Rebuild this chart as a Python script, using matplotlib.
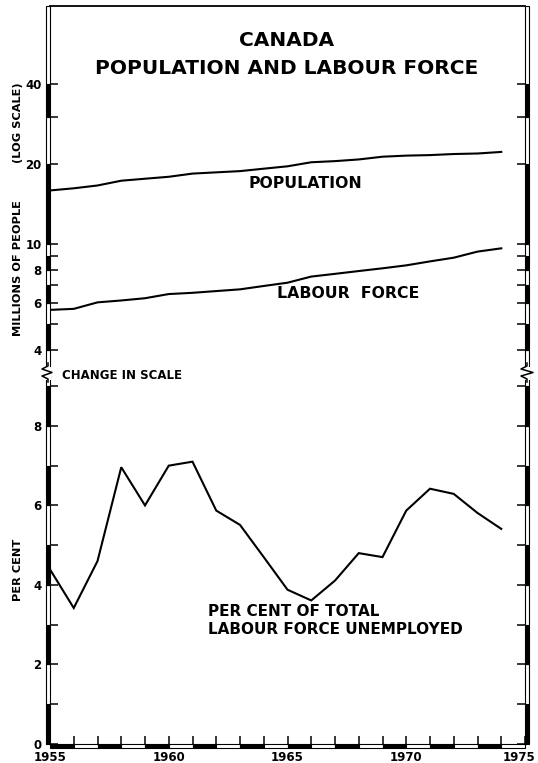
import matplotlib
matplotlib.use("Agg")
import matplotlib.pyplot as plt
from matplotlib.patches import Rectangle
from matplotlib.lines import Line2D
from matplotlib.ticker import FixedLocator, FixedFormatter, NullLocator
from matplotlib.transforms import ScaledTranslation

plt.rcParams['font.family'] = ['DejaVu Sans']
plt.rcParams['font.weight'] = 'bold'
WIDE = ['DejaVu Sans']

# ---------------- data ----------------
years = list(range(1955, 1975))
population = [15.9, 16.2, 16.6, 17.3, 17.6, 17.9, 18.4, 18.6, 18.8, 19.2,
              19.6, 20.3, 20.5, 20.8, 21.3, 21.5, 21.6, 21.8, 21.9, 22.2]
labour_force = [5.65, 5.70, 6.03, 6.13, 6.25, 6.48, 6.55, 6.65, 6.75, 6.95,
                7.15, 7.54, 7.72, 7.91, 8.10, 8.31, 8.60, 8.88, 9.36, 9.63]
unemployment = [4.39, 3.42, 4.60, 6.96, 6.00, 7.00, 7.10, 5.87, 5.51, 4.70,
                3.88, 3.61, 4.11, 4.80, 4.70, 5.87, 6.42, 6.29, 5.81, 5.41]

top_ticks = [4, 5, 6, 7, 8, 9, 10, 20, 30, 40]
top_ticklabels = ['4', '', '6', '', '8', '', '10', '20', '', '40']
bot_ticks = list(range(0, 10))
bot_ticklabels = ['0', '', '2', '', '4', '', '6', '', '8', '']
x_ticks = list(range(1955, 1976))
x_ticklabels = [str(y) if y % 5 == 0 else '' for y in x_ticks]

title_lines = ["CANADA", "POPULATION AND LABOUR FORCE"]

# ---------------- layout ----------------
W, H = 538, 763
fig = plt.figure(figsize=(W / 100, H / 100), dpi=100)
X0, X1 = 50, 525
YTOP, YBRK, YBOT = 6, 373, 744


def fa(l, t, r, b):
    return [l / W, 1 - b / H, (r - l) / W, (b - t) / H]


ax1 = fig.add_axes(fa(X0, YTOP, X1, YBRK))
ax2 = fig.add_axes(fa(X0, YBRK, X1, YBOT))

LW = 1.5
ax1.plot(years, population, color='black', lw=LW, solid_joinstyle='miter')
ax1.plot(years, labour_force, color='black', lw=LW, solid_joinstyle='miter')
ax2.plot(years, unemployment, color='black', lw=LW, solid_joinstyle='miter')

ax1.set_yscale('log')
ax1.set_ylim(3.27, 78.6)
ax2.set_ylim(0, 9.33)
for ax in (ax1, ax2):
    ax.set_xlim(1955, 1975)
    for s in ('left', 'right', 'bottom', 'top'):
        ax.spines[s].set_visible(False)

ax1.spines['top'].set_visible(True)
ax1.spines['top'].set_linewidth(1.3)

# y ticks
ax1.yaxis.set_major_locator(FixedLocator(top_ticks))
ax1.yaxis.set_major_formatter(FixedFormatter(top_ticklabels))
ax1.yaxis.set_minor_locator(NullLocator())
ax1.xaxis.set_major_locator(NullLocator())
ax1.xaxis.set_minor_locator(NullLocator())

ax2.yaxis.set_major_locator(FixedLocator(bot_ticks))
ax2.yaxis.set_major_formatter(FixedFormatter(bot_ticklabels))
ax2.xaxis.set_major_locator(FixedLocator(x_ticks))
ax2.xaxis.set_major_formatter(FixedFormatter(x_ticklabels))

for ax in (ax1, ax2):
    ax.tick_params(axis='y', direction='in', length=6, width=1.1, left=True,
                   right=True, labelsize=8.5, pad=6)
ax2.tick_params(axis='x', direction='in', length=6, width=1.1, bottom=True,
                top=False, labelsize=8.5, pad=5)
for lab in ax1.get_yticklabels() + ax2.get_yticklabels() + ax2.get_xticklabels():
    lab.set_fontweight('bold')

# keep the last year label inside the figure
last = ax2.get_xticklabels()[-1]
last.set_transform(last.get_transform() + ScaledTranslation(-6 / 100, 0, fig.dpi_scale_trans))

# ---------------- striped double-line spines ----------------
SW = 4  # strip width in pixels


def vstrip(ax, bounds, fills, side):
    w = SW / (X1 - X0)
    xpos = -w if side == 'left' else 1.0
    for (a, b), f in zip(zip(bounds[:-1], bounds[1:]), fills):
        ax.add_patch(Rectangle((xpos, a), w, b - a,
                               transform=ax.get_yaxis_transform(),
                               facecolor='black' if f else 'white',
                               edgecolor='black', lw=0.8, clip_on=False,
                               zorder=5))


def hstrip(ax, bounds, fills):
    h = SW / (YBOT - YBRK)
    for (a, b), f in zip(zip(bounds[:-1], bounds[1:]), fills):
        ax.add_patch(Rectangle((a, -h), b - a, h,
                               transform=ax.get_xaxis_transform(),
                               facecolor='black' if f else 'white',
                               edgecolor='black', lw=0.8, clip_on=False,
                               zorder=5))


top_bounds = [3.27, 4, 5, 6, 7, 8, 9, 10, 20, 30, 40, 78.6]
top_fills = [False, True, False, True, False, True, False, True, False, True, False]
bot_bounds = [0, 1, 2, 3, 4, 5, 6, 7, 8, 9, 9.33]
bot_fills = [True, False, True, False, True, False, True, False, True, False]
for side in ('left', 'right'):
    vstrip(ax1, top_bounds, top_fills, side)
    vstrip(ax2, bot_bounds, bot_fills, side)
hstrip(ax2, list(range(1955, 1976)), [i % 2 == 0 for i in range(20)])

# ---------------- scale break ----------------
for xs in (X0 - SW, X1):
    fig.add_artist(Rectangle((xs / W - 0.002, 1 - 380 / H), (SW + 2) / W, 13 / H,
                             transform=fig.transFigure, facecolor='white',
                             edgecolor='none', zorder=10))
zz_left = [(48, 363), (48, 366), (42, 369), (52, 372.5), (42, 376), (48, 379), (48, 382)]
zz_right = [(527, 363), (527, 366), (521, 369), (533, 372.5), (521, 376), (527, 379), (527, 382)]
for zz in (zz_left, zz_right):
    fig.add_artist(Line2D([p[0] / W for p in zz], [1 - p[1] / H for p in zz],
                          transform=fig.transFigure, color='black', lw=1.1,
                          zorder=11))

fig.text(62 / W, 1 - 375 / H, "CHANGE IN SCALE", fontsize=8.5, fontweight='bold',
         family=WIDE, ha='left', va='center')

# ---------------- texts ----------------
fig.text(287 / W, 1 - 40 / H, title_lines[0], fontsize=14.5, fontweight='bold',
         family=WIDE, ha='center', va='center')
fig.text(287 / W, 1 - 68 / H, title_lines[1], fontsize=14.5, fontweight='bold',
         family=WIDE, ha='center', va='center')

fig.text(305 / W, 1 - 183 / H, "POPULATION", fontsize=11.3, fontweight='bold',
         family=WIDE, ha='center', va='center')
fig.text(348 / W, 1 - 294 / H, "LABOUR  FORCE", fontsize=11.3, fontweight='bold',
         family=WIDE, ha='center', va='center')
fig.text(208 / W, 1 - 612 / H, "PER CENT OF TOTAL", fontsize=11,
         fontweight='bold', family=WIDE, ha='left', va='center')
fig.text(208 / W, 1 - 629 / H, "LABOUR FORCE UNEMPLOYED", fontsize=11,
         fontweight='bold', family=WIDE, ha='left', va='center')

fig.text(18 / W, 1 - 123 / H, "(LOG SCALE)", fontsize=8.2, fontweight='bold',
         family=WIDE, rotation=90, ha='center', va='center')
fig.text(18 / W, 1 - 268 / H, "MILLIONS OF PEOPLE", fontsize=8.2,
         fontweight='bold', family=WIDE, rotation=90, ha='center', va='center')
fig.text(18 / W, 1 - 570 / H, "PER CENT", fontsize=8.2, fontweight='bold',
         family=WIDE, rotation=90, ha='center', va='center')

fig.savefig("out.png", dpi=100)
